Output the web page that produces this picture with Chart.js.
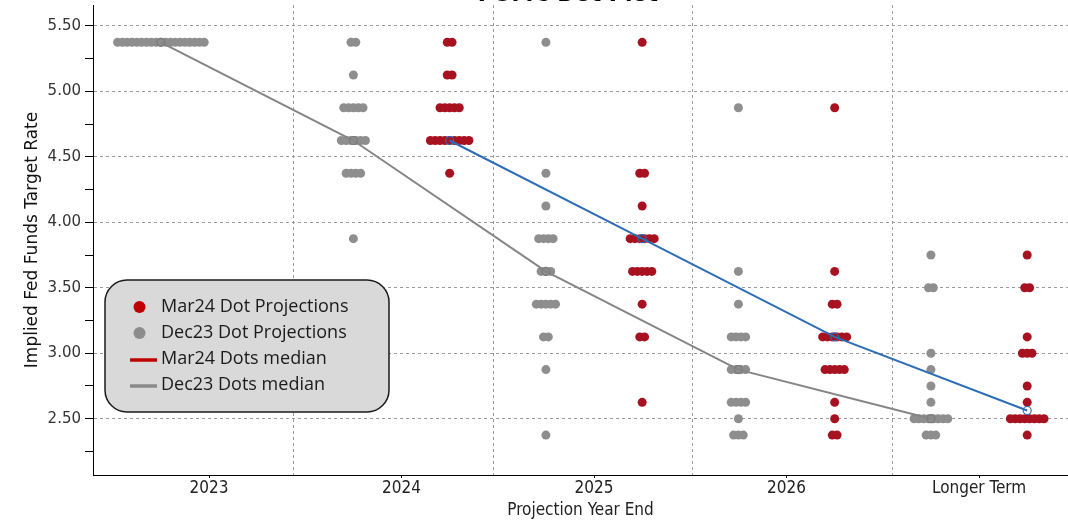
<!DOCTYPE html>
<html>
<head>
<meta charset="utf-8">
<script src="https://cdn.jsdelivr.net/npm/chart.js@4.4.1/dist/chart.umd.min.js"></script>
<style>
  html, body { margin: 0; padding: 0; background: #fff; overflow: hidden; }
  #wrap { width: 1068px; height: 521px; position: relative; }
</style>
</head>
<body>
<div id="wrap"><canvas id="DotPlot"></canvas></div>
<script>
const categories = ['2023', '2024', '2025', '2026', 'Longer Term'];

// Dec 2023 SEP: rate levels per year and how many dots sit on each level
const dec23Rates = [
  [5.375],
  [5.375, 5.125, 4.875, 4.625, 4.375, 3.875],
  [5.375, 4.375, 4.125, 3.875, 3.625, 3.375, 3.125, 2.875, 2.375],
  [4.875, 3.625, 3.375, 3.125, 2.875, 2.625, 2.5, 2.375],
  [3.75, 3.5, 3.0, 2.875, 2.75, 2.625, 2.5, 2.375]
];
const dec23Counts = [
  [19],
  [2, 1, 5, 6, 4, 1],
  [1, 1, 1, 4, 3, 5, 2, 1, 1],
  [1, 1, 1, 4, 4, 4, 1, 3],
  [1, 2, 1, 1, 1, 1, 8, 3]
];

// Mar 2024 SEP
const mar24Rates = [
  [],
  [5.375, 5.125, 4.875, 4.625, 4.375],
  [5.375, 4.375, 4.125, 3.875, 3.625, 3.375, 3.125, 2.625],
  [4.875, 3.625, 3.375, 3.125, 2.875, 2.625, 2.5, 2.375],
  [3.75, 3.5, 3.125, 3.0, 2.75, 2.625, 2.5, 2.375]
];
const mar24Counts = [
  [],
  [2, 2, 5, 9, 1],
  [1, 2, 1, 6, 5, 1, 2, 1],
  [1, 1, 2, 6, 5, 1, 1, 2],
  [1, 2, 1, 3, 1, 1, 8, 1]
];

const dec23Median = [5.375, 4.625, 3.625, 2.875, 2.5];
const mar24Median = [null, 4.625, 3.875, 3.125, 2.5625];

const yTickValues = [2.25, 2.5, 2.75, 3.0, 3.25, 3.5, 3.75, 4.0, 4.25, 4.5, 4.75, 5.0, 5.25, 5.5];

const legendLabels = ['Mar24 Dot Projections', 'Dec23 Dot Projections', 'Mar24 Dots median', 'Dec23 Dots median'];

// layout bits
const dotStep = 0.025;          // horizontal gap between stacked dots
const seriesShift = 0.25;       // Dec23 left of the label, Mar24 right
const xGridAt = [0.4364, 1.4753, 2.509, 3.548];

function spread(rates, counts, shift) {
  const pts = [];
  rates.forEach((levels, i) => {
    levels.forEach((r, j) => {
      const n = counts[i][j];
      for (let k = 0; k < n; k++) {
        pts.push({ x: i + shift + (k - (n - 1) / 2) * dotStep, y: r });
      }
    });
  });
  return pts;
}

function medianPts(meds, shift) {
  const pts = [];
  meds.forEach((m, i) => { if (m !== null) pts.push({ x: i + shift, y: m }); });
  return pts;
}

const isMajor = v => Math.abs(v * 2 - Math.round(v * 2)) < 1e-9;

const titlePlugin = {
  id: 'cutTitle',
  afterDraw(chart) {
    const c = chart.ctx;
    c.save();
    c.font = 'bold 22px "DejaVu Sans"';
    c.fillStyle = '#000';
    c.textAlign = 'center';
    c.textBaseline = 'alphabetic';
    c.fillText('FOMC Dot Plot', 568, 1);
    c.restore();
  }
};

const legendBox = {
  id: 'legendBox',
  afterDraw(chart) {
    const c = chart.ctx;
    const x = 105, y = 280, w = 284, h = 132, r = 22;
    c.save();
    c.beginPath();
    c.moveTo(x + r, y);
    c.lineTo(x + w - r, y);
    c.arcTo(x + w, y, x + w, y + r, r);
    c.lineTo(x + w, y + h - r);
    c.arcTo(x + w, y + h, x + w - r, y + h, r);
    c.lineTo(x + r, y + h);
    c.arcTo(x, y + h, x, y + h - r, r);
    c.lineTo(x, y + r);
    c.arcTo(x, y, x + r, y, r);
    c.closePath();
    c.fillStyle = '#d9d9d9';
    c.fill();
    c.lineWidth = 1.5;
    c.strokeStyle = '#1a1a1a';
    c.stroke();

    const colors = ['#c00000', '#8c8c8c', '#c00000', '#8a8a8a'];
    c.font = '18px "Open Sans"';
    c.textBaseline = 'middle';
    legendLabels.forEach((lab, i) => {
      const cy = 307 + i * 26;
      if (i < 2) {
        c.beginPath();
        c.arc(139.5, cy, 6, 0, Math.PI * 2);
        c.fillStyle = colors[i];
        c.fill();
      } else {
        c.beginPath();
        c.moveTo(130, cy + 1);
        c.lineTo(157, cy + 1);
        c.lineWidth = 3.5;
        c.strokeStyle = colors[i];
        c.stroke();
      }
      c.fillStyle = '#1a1a1a';
      c.fillText(lab, 161, cy);
    });
    c.restore();
  }
};

let DotCtx = document.getElementById('DotPlot').getContext('2d');

const DotChart = new Chart(DotCtx, {
  type: 'scatter',
  data: {
    datasets: [
      {
        label: 'Mar24 Dots median',
        data: medianPts(mar24Median, seriesShift),
        showLine: true,
        borderColor: '#2e6db6',
        borderWidth: 2,
        pointRadius: 4,
        pointBorderWidth: 1.2,
        pointBorderColor: '#2e6db6',
        pointBackgroundColor: 'rgba(0,0,0,0)',
        order: 0,
      },
      {
        label: 'Dec23 Dots median',
        data: medianPts(dec23Median, -seriesShift),
        showLine: true,
        borderColor: '#858585',
        borderWidth: 2,
        pointRadius: 4,
        pointBorderWidth: 1.2,
        pointBorderColor: '#7a7a7a',
        pointBackgroundColor: 'rgba(0,0,0,0)',
        order: 1,
      },
      {
        label: 'Mar24 Dot Projections',
        data: spread(mar24Rates, mar24Counts, seriesShift),
        backgroundColor: '#a8111f',
        borderWidth: 0,
        pointRadius: 4.5,
        order: 2,
      },
      {
        label: 'Dec23 Dot Projections',
        data: spread(dec23Rates, dec23Counts, -seriesShift),
        backgroundColor: '#8e8e8e',
        borderWidth: 0,
        pointRadius: 4.5,
        order: 3,
      },
    ]
  },
  options: {
    responsive: true,
    maintainAspectRatio: false,
    animation: false,
    layout: { autoPadding: false, padding: { top: 5, right: 0, left: 0, bottom: 0 } },
    plugins: {
      legend: { display: false },
      tooltip: { enabled: false },
    },
    scales: {
      x: {
        type: 'linear',
        min: -0.6026,
        max: 4.462,
        afterBuildTicks: function (scale) {
          const vals = categories.map((c, i) => i).concat(xGridAt).sort((a, b) => a - b);
          scale.ticks = vals.map(v => ({ value: v }));
        },
        afterFit: function (scale) {
          scale.height = 46;
          scale.paddingLeft = 0;
          scale.paddingRight = 0;
        },
        grid: {
          color: ctx => Number.isInteger(ctx.tick && ctx.tick.value) ? 'rgba(0,0,0,0)' : '#9a9a9a',
          tickColor: ctx => Number.isInteger(ctx.tick && ctx.tick.value) ? '#000' : 'rgba(0,0,0,0)',
          tickLength: 3,
          lineWidth: 1,
        },
        border: { display: true, color: '#000', width: 1, dash: [3, 3] },
        ticks: {
          autoSkip: false,
          maxRotation: 0,
          minRotation: 0,
          padding: 0,
          color: '#222',
          font: { family: '"DejaVu Sans Condensed"', size: 17 },
          callback: function (value) {
            return Number.isInteger(value) ? categories[value] : '';
          },
        },
        title: {
          display: true,
          text: 'Projection Year End',
          color: '#222',
          font: { family: '"DejaVu Sans Condensed"', size: 17 },
          padding: { top: 2, bottom: 0 },
        },
      },
      y: {
        min: 2.07,
        max: 5.66,
        afterBuildTicks: function (scale) {
          scale.ticks = yTickValues.map(v => ({ value: v }));
        },
        afterFit: function (scale) {
          scale.width = 93;
          scale.paddingTop = 0;
          scale.paddingBottom = 0;
        },
        grid: {
          color: ctx => (ctx.tick && isMajor(ctx.tick.value)) ? '#9a9a9a' : 'rgba(0,0,0,0)',
          tickColor: '#000',
          tickLength: 8,
          lineWidth: 1,
        },
        border: { display: true, color: '#000', width: 1, dash: [3, 3] },
        ticks: {
          padding: 4,
          color: '#333',
          font: { family: '"DejaVu Sans"', size: 15 },
          callback: function (value) {
            return isMajor(value) ? value.toFixed(2) : '';
          },
        },
        title: {
          display: true,
          text: 'Implied Fed Funds Target Rate',
          color: '#111',
          font: { family: '"DejaVu Sans"', size: 17 },
          padding: { top: 22, bottom: 0 },
        },
      },
    },
  },
  plugins: [titlePlugin, legendBox],
});
</script>
</body>
</html>
